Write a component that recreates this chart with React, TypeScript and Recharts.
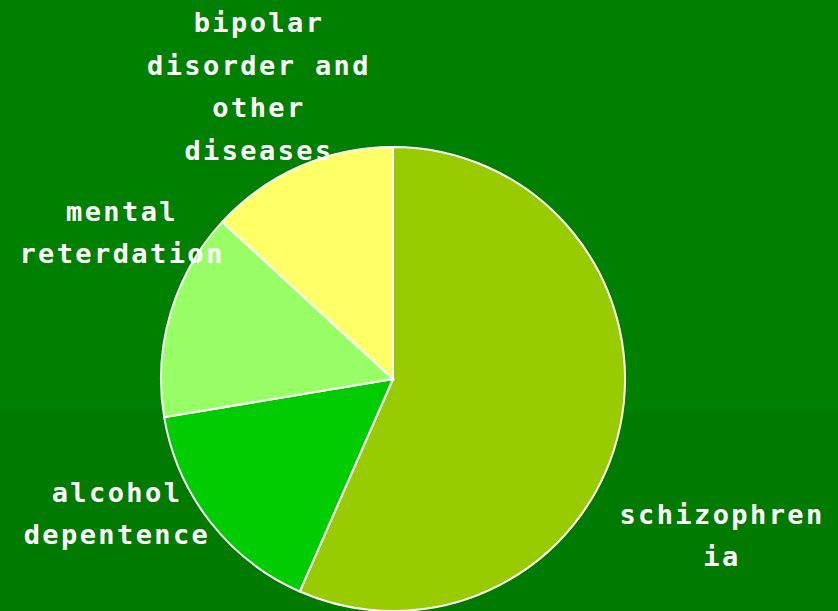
import React from 'react';
import { PieChart, Pie, Cell } from 'recharts';

const categories = ['schizophrenia', 'alcohol dependence', 'mental retardation', 'bipolar disorder and other diseases'];
const values = [43, 12, 11, 10];
const labelLines = [
  ['schizophren', 'ia'],
  ['alcohol', 'depentence'],
  ['mental', 'reterdation'],
  ['bipolar', 'disorder and', 'other', 'diseases'],
];

const colors = ['#99CC00', '#00CC00', '#99FF66', '#FFFF66'];
const labelOffsets = [
  { dx: 329, dy: 156 },
  { dx: -276, dy: 134 },
  { dx: -271, dy: -147 },
  { dx: -134, dy: -293 },
];

const data = categories.map((name, i) => ({ name, value: values[i] }));

const W = 838;
const H = 611;
const LH = 42.5;

const renderLabel = (props: any) => {
  const { cx, cy, index } = props;
  const lines = labelLines[index];
  const off = labelOffsets[index];
  const x = cx + off.dx;
  const yc = cy + off.dy;
  const y0 = yc - ((lines.length - 1) / 2) * LH;
  return (
    <text
      key={`lbl-${index}`}
      x={x}
      y={y0}
      fill="#FFFFFF"
      textAnchor="middle"
      dominantBaseline="central"
      style={{ fontFamily: '"DejaVu Sans Mono", monospace', fontSize: 27, fontWeight: 'bold', letterSpacing: 2.4 }}
    >
      {lines.map((l, i) => (
        <tspan key={i} x={x} y={y0 + i * LH} dominantBaseline="central">
          {l}
        </tspan>
      ))}
    </text>
  );
};

export default function App() {
  return (
    <div
      style={{
        position: 'absolute',
        left: 0,
        top: 0,
        width: W,
        height: H,
        background: 'linear-gradient(to bottom, #008000 0px, #008000 411px, #007B00 411px, #007B00 611px)',
        overflow: 'hidden',
      }}
    >
      <PieChart width={W} height={H} margin={{ top: 0, right: 0, bottom: 0, left: 0 }}>
        <Pie
          data={data}
          dataKey="value"
          nameKey="name"
          cx={393}
          cy={379}
          outerRadius={232}
          startAngle={90}
          endAngle={-270}
          stroke="#FFFFFF"
          strokeWidth={2}
          label={renderLabel}
          labelLine={false}
          isAnimationActive={false}
        >
          {data.map((d, i) => (
            <Cell key={d.name} fill={colors[i]} />
          ))}
        </Pie>
      </PieChart>
    </div>
  );
}
